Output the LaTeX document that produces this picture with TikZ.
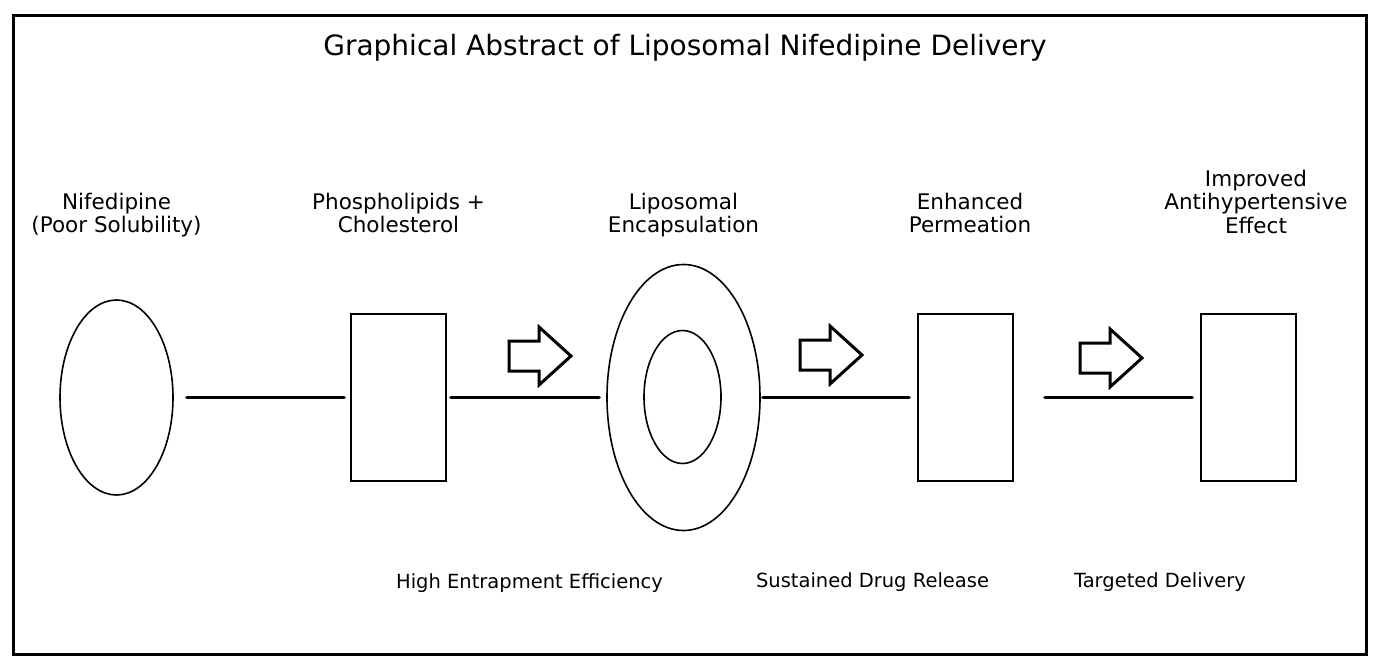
\documentclass[tikz,border=0pt]{standalone}
\usepackage{fontspec}
\setmainfont{DejaVu Sans}
\usetikzlibrary{shapes.geometric}
\tikzset{
  shapeline/.style={draw=black, line width=1.6pt, fill=none, inner sep=0pt},
  oval/.style={shapeline, ellipse},
  boxnode/.style={shapeline, rectangle, minimum width=95pt, minimum height=167pt},
  link/.style={draw=black, line width=3.2pt, line cap=round},
  toplabel/.style={anchor=north, inner sep=0pt, align=center, font=\fontsize{21.5}{23.5}\selectfont},
  botlabel/.style={anchor=base, inner sep=0pt, font=\fontsize{19.5}{22}\selectfont},
  titletext/.style={anchor=base, inner sep=0pt, font=\fontsize{28}{32}\selectfont},
  blockarrow/.pic={\draw[line width=3pt, line join=miter]
      (-31,-15) -- (-1,-15) -- (-1,-29) -- (31,0) -- (-1,29) -- (-1,15) -- (-31,15) -- cycle;}
}
\begin{document}
\begin{tikzpicture}[x=1pt,y=-1pt]
\useasboundingbox (0,0) rectangle (1379,670);
\draw[line width=3pt] (13.5,15.5) rectangle (1366.5,654);
\node[titletext] (title) at (685,55) {Graphical Abstract of Liposomal Nifedipine Delivery};

\node[oval, minimum width=113pt, minimum height=195pt] (e1) at (116.5,397.5) {};
\node[boxnode] (r1) at (398.5,397.5) {};
\node[oval, minimum width=153pt, minimum height=266pt] (e2) at (683.5,397.5) {};
\node[oval, minimum width=77pt, minimum height=133pt] (e3) at (682.5,397) {};
\node[boxnode] (r2) at (965.5,397.5) {};
\node[boxnode] (r3) at (1248.5,397.5) {};

\draw[link, shorten <=13pt, shorten >=6pt] (e1.east) -- (r1.west);
\draw[link, shorten <=4pt, shorten >=7pt] (r1.east) -- (e2.west);
\draw[link, shorten <=2pt, shorten >=8pt] (e2.east) -- (r2.west);
\draw[link, shorten <=31pt, shorten >=8pt] (r2.east) -- (r3.west);

\pic at (540,356) {blockarrow};
\pic at (831,355) {blockarrow};
\pic at (1111,358) {blockarrow};

\node[toplabel] (l1) at (116.5,192.5) {Nifedipine\\(Poor Solubility)};
\node[toplabel] (l2) at (398.5,192.5) {Phospholipids +\\Cholesterol};
\node[toplabel] (l3) at (683.5,192.5) {Liposomal\\Encapsulation};
\node[toplabel] (l4) at (970,192.5) {Enhanced\\Permeation};
\node[toplabel] (l5) at (1256,169.5) {Improved\\Antihypertensive\\Effect};

\node[botlabel] (b1) at (529.5,588) {High Entrapment Efficiency};
\node[botlabel] (b2) at (872.5,587) {Sustained Drug Release};
\node[botlabel] (b3) at (1160,587) {Targeted Delivery};
\end{tikzpicture}
\end{document}
